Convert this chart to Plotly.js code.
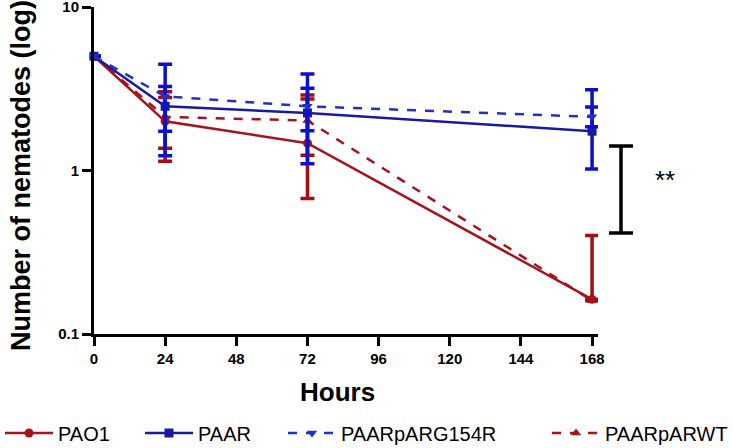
<!DOCTYPE html>
<html>
<head>
<meta charset="utf-8">
<script src="https://cdn.plot.ly/plotly-3.0.1.min.js"></script>
<style>html,body{margin:0;padding:0;background:#fff;}#chart{width:733px;height:448px;}</style>
</head>
<body>
<div id="chart"></div>
<script>
// ---- data ----
const hours = [0, 24, 72, 168];
const xTickVals = [0, 24, 48, 72, 96, 120, 144, 168];
const yTickVals = [0.1, 1, 10];
const yTickText = ['0.1', '1', '10'];

const seriesNames = ['PAO1', 'PAAR', 'PAARpARG154R', 'PAARpARWT'];

const pao1Mean  = [5.0, 2.00, 1.47, 0.163];
const pao1Upper = [5.0, 2.80, 2.90, 0.40];
const pao1Lower = [5.0, 1.14, 0.675, 0.163];

const paarMean  = [5.0, 2.47, 2.25, 1.74];
const paarUpper = [5.0, 4.47, 3.90, 3.12];
const paarLower = [5.0, 1.23, 1.10, 1.02];

const g154rMean  = [5.0, 2.84, 2.47, 2.13];
const g154rUpper = [5.0, 3.27, 3.19, 2.45];
const g154rLower = [5.0, 1.74, 1.75, 1.85];

const wtMean  = [5.0, 2.13, 2.02, 0.160];
const wtUpper = [5.0, 3.03, 2.74, 0.160];
const wtLower = [5.0, 1.37, 1.24, 0.160];

const sigLabel = '**';
const xTitle = 'Hours';
const yTitle = 'Number of nematodes (log)';

// ---- styling ----
const RED = '#A5141C';
const RED_ERR = '#A80C12';
const NAVY = '#1A1A9E';
const BLUE = '#2030C8';
const BLUE_ERR = '#0A10D2';
const FONT = 'Arial, "Liberation Sans", Helvetica, sans-serif';

function up(u, m) { return u.map((v, i) => v - m[i]); }
function dn(l, m) { return m.map((v, i) => v - l[i]); }

function trace(name, mean, upper, lower, color, errColor, dash, symbol, legendId) {
  return {
    x: hours, y: mean, name: name, type: 'scatter', mode: 'lines+markers',
    line: {color: color, width: 2.5, dash: dash},
    marker: {color: color, size: 9, symbol: symbol},
    error_y: {type: 'data', symmetric: false, array: up(upper, mean), arrayminus: dn(lower, mean),
              color: errColor, thickness: 3.5, width: 7},
    cliponaxis: false, legend: legendId
  };
}

const data = [
  trace(seriesNames[0], pao1Mean, pao1Upper, pao1Lower, RED, RED_ERR, 'solid', 'circle', 'legend'),
  trace(seriesNames[3], wtMean, wtUpper, wtLower, RED, RED_ERR, 'dash', 'triangle-up', 'legend4'),
  trace(seriesNames[1], paarMean, paarUpper, paarLower, NAVY, BLUE_ERR, 'solid', 'square', 'legend2'),
  trace(seriesNames[2], g154rMean, g154rUpper, g154rLower, BLUE, BLUE_ERR, 'dash', 'triangle-down', 'legend3')
];

const W = 733, H = 448;
const L = 94, R = 135, T = 7, B = 114;
const pw = W - L - R, ph = H - T - B;
function px(xp) { return (xp - L) / pw; }
function py(yp) { return (H - B - yp) / ph; }

function legendAt(xPix) {
  return {orientation: 'h', x: px(xPix), xanchor: 'left', y: py(433), yanchor: 'middle',
          font: {family: FONT, size: 20, color: '#000'}, bgcolor: 'rgba(0,0,0,0)', itemwidth: 48};
}

const layout = {
  width: W, height: H,
  margin: {l: L, r: R, t: T, b: B, pad: 0, autoexpand: false},
  paper_bgcolor: '#fff', plot_bgcolor: '#fff',
  font: {family: FONT, color: '#000'},
  showlegend: true,
  legend: legendAt(0),
  legend2: legendAt(140),
  legend3: legendAt(283),
  legend4: legendAt(547),
  xaxis: {
    range: [0, 170], tickvals: xTickVals, ticktext: xTickVals.map(String), automargin: false,
    showgrid: false, zeroline: false, showline: true, linecolor: '#000', linewidth: 3,
    ticks: 'outside', ticklen: 9, tickwidth: 3, tickcolor: '#000', ticklabeloverflow: 'allow',
    tickfont: {family: FONT, size: 15, color: '#000', weight: 'bold'}
  },
  yaxis: {
    type: 'log', range: [-1, 1.0002], tickvals: yTickVals, ticktext: yTickText, automargin: false,
    showgrid: false, zeroline: false, showline: true, linecolor: '#000', linewidth: 3,
    ticks: 'outside', ticklen: 9, tickwidth: 3, tickcolor: '#000', ticklabeloverflow: 'allow',
    tickfont: {family: FONT, size: 15, color: '#000', weight: 'bold'}
  },
  shapes: [
    {type: 'line', xref: 'paper', yref: 'paper', x0: px(621), x1: px(621), y0: py(146), y1: py(233), line: {color: '#000', width: 3.5}},
    {type: 'line', xref: 'paper', yref: 'paper', x0: px(609), x1: px(633), y0: py(146), y1: py(146), line: {color: '#000', width: 3.5}},
    {type: 'line', xref: 'paper', yref: 'paper', x0: px(609), x1: px(633), y0: py(233), y1: py(233), line: {color: '#000', width: 3.5}}
  ],
  annotations: [
    {text: sigLabel, xref: 'paper', yref: 'paper', x: px(665), y: py(180), showarrow: false,
     font: {family: FONT, size: 26, color: '#000'}, xanchor: 'center', yanchor: 'middle'},
    {text: '<b>' + xTitle + '</b>', xref: 'paper', yref: 'paper', x: px(337), y: py(392), showarrow: false,
     font: {family: FONT, size: 26, color: '#000'}, xanchor: 'center', yanchor: 'middle'},
    {text: '<b>' + yTitle + '</b>', xref: 'paper', yref: 'paper', x: px(21), y: py(176), showarrow: false,
     textangle: -90, font: {family: FONT, size: 27, color: '#000'}, xanchor: 'center', yanchor: 'middle'}
  ]
};

Plotly.newPlot('chart', data, layout, {staticPlot: true, displayModeBar: false});
</script>
</body>
</html>
